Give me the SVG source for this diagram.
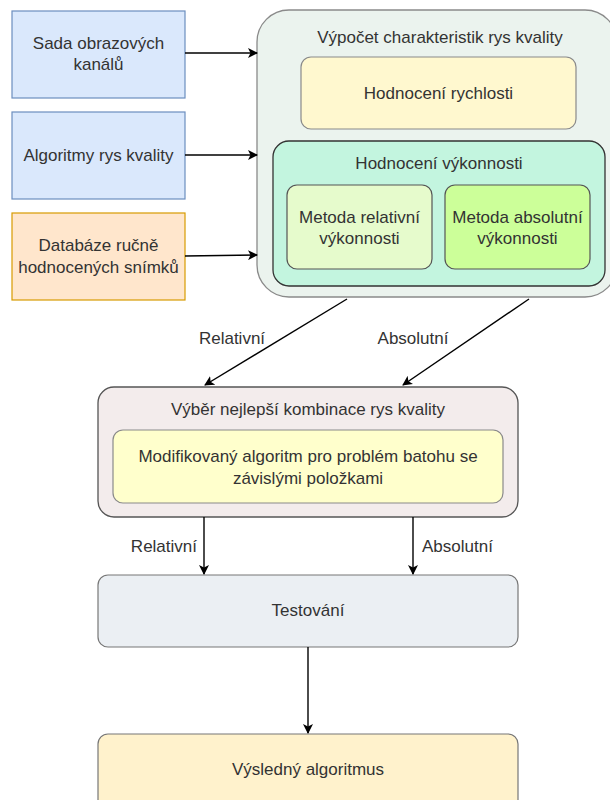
<svg xmlns="http://www.w3.org/2000/svg" width="610" height="800" viewBox="0 0 610 800">
<defs>
<marker id="ah" viewBox="0 0 10 10" refX="9" refY="5" markerWidth="10" markerHeight="10" markerUnits="userSpaceOnUse" orient="auto">
<path d="M0,0 L10,5 L0,10 L2.5,5 Z" fill="#000"/>
</marker>
<style>
text{font-family:"Liberation Sans",Arial,sans-serif;font-size:17px;fill:#333;text-anchor:middle}
.c{stroke:#000;stroke-width:1.4;fill:none;marker-end:url(#ah)}
</style>
</defs>
<rect width="610" height="800" fill="#fff"/>
<g id="sada">
<rect x="12" y="11" width="173" height="87" fill="#dae8fc" stroke="#6c8ebf" stroke-width="1.2"/>
<text x="98.5" y="49">Sada obrazových</text>
<text x="98.5" y="70">kanálů</text>
</g>
<g id="algoritmy">
<rect x="12" y="112" width="173" height="87" fill="#dae8fc" stroke="#6c8ebf" stroke-width="1.2"/>
<text x="98.5" y="161">Algoritmy rys kvality</text>
</g>
<g id="databaze">
<rect x="12" y="213" width="173" height="87" fill="#ffe6cc" stroke="#d79b00" stroke-width="1.2"/>
<text x="98.5" y="251">Databáze ručně</text>
<text x="98.5" y="273">hodnocených snímků</text>
</g>
<g id="vypocet">
<rect x="257" y="10" width="360" height="287" rx="32" ry="32" fill="#ebf3ee" stroke="#8a8a8a" stroke-width="1.3"/>
<text x="440" y="43">Výpočet charakteristik rys kvality</text>
</g>
<g id="rychlost">
<rect x="301" y="57" width="275" height="72" rx="10" ry="10" fill="#fff8cf" stroke="#8a8a8a" stroke-width="1.2"/>
<text x="438.5" y="99">Hodnocení rychlosti</text>
</g>
<g id="vykonnost">
<rect x="273" y="141" width="332" height="145" rx="16" ry="16" fill="#c3f5df" stroke="#333" stroke-width="1.3"/>
<text x="439" y="169">Hodnocení výkonnosti</text>
</g>
<g id="relativni">
<rect x="287" y="185" width="145" height="84" rx="10" ry="10" fill="#e6fbcc" stroke="#555" stroke-width="1.2"/>
<text x="359.5" y="223">Metoda relativní</text>
<text x="359.5" y="244">výkonnosti</text>
</g>
<g id="absolutni">
<rect x="445" y="185" width="145" height="84" rx="10" ry="10" fill="#ccff99" stroke="#555" stroke-width="1.2"/>
<text x="517.5" y="223">Metoda absolutní</text>
<text x="517.5" y="244">výkonnosti</text>
</g>
<g id="vyber">
<rect x="98" y="387" width="420" height="130" rx="16" ry="16" fill="#f3ecec" stroke="#555" stroke-width="1.3"/>
<text x="308" y="415">Výběr nejlepší kombinace rys kvality</text>
</g>
<g id="knapsack">
<rect x="113" y="430" width="390" height="73" rx="10" ry="10" fill="#ffffcc" stroke="#8a8a8a" stroke-width="1.2"/>
<text x="308" y="462">Modifikovaný algoritm pro problém batohu se</text>
<text x="308" y="484">závislými položkami</text>
</g>
<g id="testovani">
<rect x="98" y="575" width="420" height="72" rx="10" ry="10" fill="#ebeff3" stroke="#777" stroke-width="1.2"/>
<text x="308" y="616">Testování</text>
</g>
<g id="vysledny">
<rect x="98" y="734" width="420" height="80" rx="10" ry="10" fill="#fff2cc" stroke="#777" stroke-width="1.2"/>
<text x="308" y="775">Výsledný algoritmus</text>
</g>
<g id="connectors">
<path class="c" d="M185,53 L257,53"/>
<path class="c" d="M185,155 L257,155"/>
<path class="c" d="M185,256 L257,255"/>
<path class="c" d="M347,299 L205,385"/>
<path class="c" d="M529,299 L403,385"/>
<path class="c" d="M204,517 L204,574"/>
<path class="c" d="M413,517 L413,574"/>
<path class="c" d="M308,647 L308,733"/>
<text x="232" y="344">Relativní</text>
<text x="413" y="344">Absolutní</text>
<text x="197" y="552" style="text-anchor:end">Relativní</text>
<text x="422" y="552" style="text-anchor:start">Absolutní</text>
</g>
</svg>
